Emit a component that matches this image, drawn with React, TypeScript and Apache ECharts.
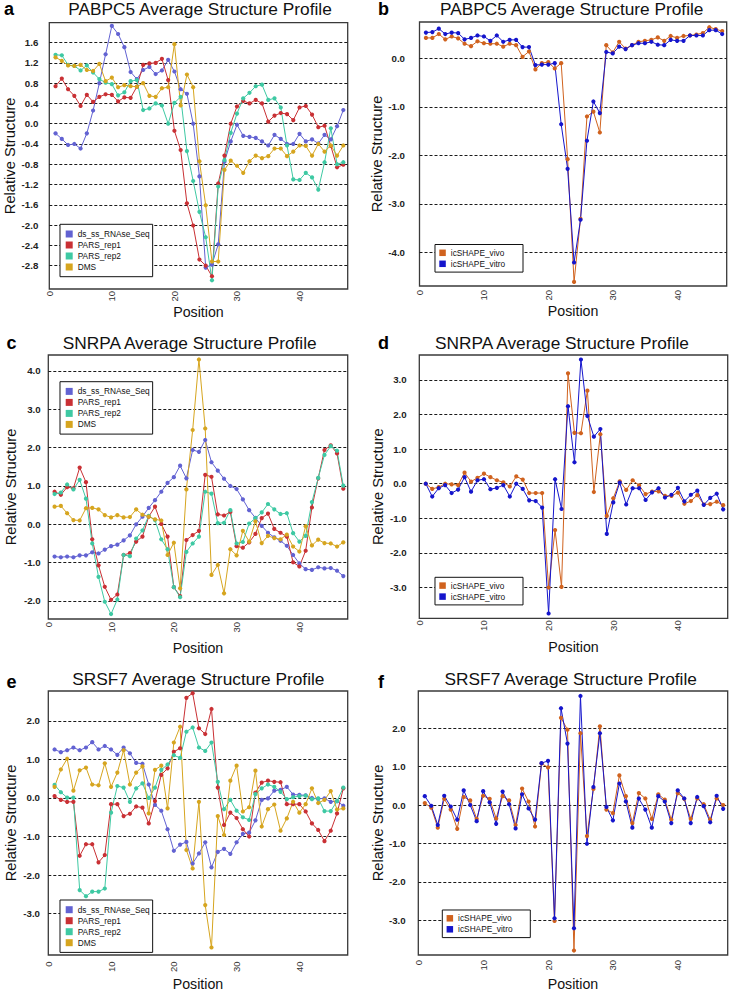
import React, { useEffect, useRef } from "react";
import * as echarts from "echarts";

// ---------- data ----------
const positions: number[] = Array.from({ length: 47 }, (_, i) => i + 1);
const xTicks = [0, 10, 20, 30, 40];

const leftNames = ["ds_ss_RNAse_Seq", "PARS_rep1", "PARS_rep2", "DMS"];
const rightNames = ["icSHAPE_vivo", "icSHAPE_vitro"];

// Panel a: PABPC5
const aDsSs = [-0.19,-0.3,-0.42,-0.4,-0.49,-0.19,0.26,0.8,1.37,1.93,1.77,1.51,1.02,0.88,1.06,1.12,0.98,1.05,1.26,1.03,0.68,0.59,0.0,-1.04,-2.84,-2.78,-2.38,-0.75,-0.35,-0.02,-0.24,-0.26,-0.28,-0.35,-0.43,-0.22,-0.3,-0.4,-0.4,-0.2,-0.35,-0.31,-0.39,-0.22,-0.31,-0.05,0.27];
const aPars1 = [0.74,0.89,0.68,0.55,0.35,0.57,0.43,0.53,0.58,0.57,0.44,0.52,0.51,0.73,1.16,1.19,1.2,1.28,0.86,-0.14,-0.52,-1.57,-2.01,-2.68,-2.8,-3.01,-1.18,-0.63,0.0,0.34,0.45,0.4,0.47,0.4,0.04,0.16,0.21,0.19,0.07,0.32,0.35,0.18,-0.07,-0.04,-0.44,-0.86,-0.81];
const aPars2 = [1.36,1.35,1.16,1.14,1.05,1.15,1.01,0.88,0.81,0.78,0.56,0.62,0.84,0.86,0.27,0.3,0.4,0.36,0.0,0.41,0.53,-0.54,-1.13,-1.74,-2.24,-3.09,-1.24,-0.72,-0.18,0.2,0.5,0.61,0.74,0.77,0.47,0.5,0.32,-0.43,-1.1,-1.11,-0.97,-1.06,-1.3,-0.76,-0.09,-0.8,-0.76];
const aDms = [1.31,1.24,1.15,1.14,1.16,1.06,1.04,1.18,0.84,0.91,0.72,0.76,0.74,0.73,0.8,0.55,0.53,0.7,0.72,1.57,0.36,0.97,0.72,-0.74,-1.61,-2.72,-2.72,-0.91,-0.73,-0.83,-0.97,-0.74,-0.63,-0.68,-0.64,-0.49,-0.49,-0.64,-0.55,-0.43,-0.44,-0.63,-0.4,-0.55,-0.43,-0.63,-0.43];
const aYTicks = [-2.8,-2.4,-2.0,-1.6,-1.2,-0.8,-0.4,0,0.4,0.8,1.2,1.6];

// Panel b: PABPC5 icSHAPE
const bVivo = [0.42,0.42,0.5,0.39,0.45,0.41,0.3,0.25,0.35,0.31,0.3,0.3,0.24,0.3,0.27,0.03,0.14,-0.23,-0.1,-0.08,-0.21,-0.1,-2.08,-4.61,-3.31,-1.2,-1.1,-1.53,0.27,0.12,0.34,0.2,0.27,0.34,0.36,0.38,0.43,0.36,0.46,0.42,0.46,0.47,0.49,0.52,0.64,0.6,0.56];
const bVitro = [0.53,0.54,0.61,0.5,0.53,0.52,0.39,0.42,0.47,0.45,0.36,0.47,0.34,0.38,0.38,0.23,0.23,-0.14,-0.13,-0.13,-0.1,-1.36,-2.28,-4.21,-3.33,-1.7,-0.89,-1.13,0.13,0.1,0.24,0.19,0.27,0.31,0.31,0.34,0.28,0.27,0.38,0.36,0.36,0.47,0.47,0.47,0.58,0.58,0.5];
const bYTicks = [-4,-3,-2,-1,0];

// Panel c: SNRPA
const cDsSs = [-0.84,-0.86,-0.84,-0.86,-0.81,-0.81,-0.73,-0.76,-0.66,-0.57,-0.53,-0.42,-0.29,0.0,0.2,0.43,0.63,0.85,1.08,1.23,1.53,1.2,1.94,1.89,2.2,1.62,1.4,1.19,1.0,0.92,0.65,0.37,0.17,-0.04,-0.22,-0.34,-0.43,-0.56,-0.8,-1.02,-1.17,-1.19,-1.12,-1.15,-1.14,-1.21,-1.35];
const cPars1 = [0.85,0.77,0.97,0.94,1.48,1.1,-0.39,-1.07,-1.63,-1.97,-1.83,-0.8,-0.75,-0.45,-0.32,0.2,0.46,0.01,-0.32,-1.64,-1.87,-0.41,-0.28,-0.17,1.29,1.24,0.26,0.23,0.32,-0.57,-0.61,-0.47,-0.25,0.16,0.28,-0.12,-0.22,-0.32,-0.99,-1.1,-0.69,0.44,1.2,1.94,2.06,1.85,0.93];
const cPars2 = [0.79,0.83,1.04,0.91,1.16,0.67,-0.5,-1.37,-2.02,-2.34,-1.96,-0.8,-0.83,-0.37,-0.16,0.22,0.11,-0.39,-0.65,-1.64,-1.9,-0.72,-0.5,-0.32,0.85,0.8,0.03,0.04,0.37,-0.5,-0.46,0.02,0.16,0.31,0.53,0.39,0.27,0.29,-0.23,-0.45,-0.3,0.58,1.21,1.81,2.04,1.92,1.01];
const cDms = [0.46,0.48,0.29,0.11,0.1,0.42,0.43,0.39,0.24,0.18,0.24,0.18,0.19,0.39,0.25,0.2,0.13,0.1,-0.8,-0.48,-1.67,0.91,2.46,4.3,2.5,-1.32,-1.06,-1.8,-0.65,-0.81,-0.17,-0.45,0.08,-0.49,-0.3,-0.36,-0.39,-0.27,-0.58,-0.71,-0.05,-0.55,-0.4,-0.49,-0.5,-0.58,-0.47];
const cYTicks = [-2,-1,0,1,2,3,4];

// Panel d: SNRPA icSHAPE
const dVivo = [0.0,-0.15,-0.1,0.0,-0.02,-0.04,0.32,0.06,0.17,0.29,0.19,0.1,0.04,-0.08,0.21,0.12,-0.27,-0.27,-0.27,-3.0,-1.34,-2.98,3.19,1.47,1.46,2.69,-0.24,1.43,-0.93,-0.42,0.07,-0.18,0.1,-0.05,-0.3,-0.23,-0.22,-0.35,-0.35,-0.26,-0.58,-0.5,-0.33,-0.6,-0.59,-0.52,-0.62];
const dVitro = [0.0,-0.37,-0.13,-0.04,-0.27,-0.17,0.19,-0.23,0.1,0.13,-0.16,-0.12,-0.04,-0.37,0.0,-0.15,-0.48,-0.5,-0.69,-3.75,0.13,-0.73,2.24,0.62,3.59,1.96,1.36,1.58,-1.45,-0.54,0.03,-0.6,-0.13,-0.13,-0.47,-0.25,-0.13,-0.4,-0.32,-0.12,-0.51,-0.32,-0.2,-0.61,-0.41,-0.29,-0.74];
const dYTicks = [-3,-2,-1,0,1,2,3];

// Panel e: SRSF7
const eDsSs = [1.26,1.19,1.24,1.31,1.24,1.31,1.45,1.26,1.35,1.26,1.12,1.31,1.16,0.91,0.89,0.35,-0.18,-0.33,-0.81,-1.37,-1.21,-1.14,-1.7,-1.44,-1.15,-1.8,-1.4,-1.32,-1.45,-1.15,-0.93,-0.9,-0.58,-0.05,-0.01,0.19,0.21,0.29,0.09,0.08,0.07,0.0,-0.02,-0.01,-0.1,-0.08,-0.2];
const ePars1 = [0.05,-0.05,-0.1,-0.1,-1.5,-1.2,-1.2,-1.67,-1.48,-0.16,-0.16,-0.47,-0.41,-0.22,-0.25,-0.66,-0.08,0.6,0.77,1.2,1.29,2.6,2.72,1.81,1.66,2.31,0.27,-0.7,-0.38,-0.52,-0.81,-1.0,0.14,0.4,0.45,0.42,0.41,-0.16,-0.16,-0.16,-0.35,-0.66,-0.83,-1.12,-0.85,-0.4,0.25];
const ePars2 = [0.34,0.15,0.01,0.01,-2.39,-2.55,-2.43,-2.43,-2.35,-0.38,0.31,0.27,-0.1,0.25,0.38,0.0,0.27,0.73,0.87,1.11,1.04,1.72,1.83,1.31,1.22,1.44,0.42,-0.29,-0.05,-0.33,-0.5,-0.57,0.1,0.25,0.35,0.29,0.16,-0.03,0.02,0.05,0.06,-0.03,-0.01,-0.34,-0.34,-0.08,0.27];
const eDms = [0.29,0.74,1.02,0.19,0.72,0.79,0.35,0.33,0.9,0.29,0.66,1.24,0.35,0.66,0.82,-0.4,0.73,0.84,-0.27,1.44,1.85,-1.35,-1.83,-0.1,-2.78,-3.88,-0.47,-0.96,0.45,0.84,-0.35,-0.24,0.71,-0.74,-0.29,-0.17,-0.85,-0.53,-0.1,-0.38,-0.16,0.25,-0.13,-0.05,0.18,-0.3,-0.27];
const eYTicks = [-3,-2,-1,0,1,2];

// Panel f: SRSF7 icSHAPE
const fVivo = [0.05,-0.07,-0.59,0.16,-0.12,-0.62,0.21,0.12,-0.36,0.24,0.16,-0.35,0.23,0.12,-0.52,0.43,0.09,-0.56,1.08,0.98,-3.02,2.27,1.96,-3.79,1.87,-0.81,0.42,2.05,-0.12,-0.21,0.77,0.23,-0.47,0.31,0.17,-0.36,0.28,0.14,-0.38,0.31,0.16,-0.36,0.17,0.02,-0.38,0.17,0.0];
const fVitro = [0.23,-0.02,-0.52,0.24,-0.04,-0.38,0.38,0.0,-0.42,0.36,0.07,-0.49,0.35,0.02,-0.61,0.28,-0.09,-0.38,1.09,1.15,-2.95,2.52,1.6,-3.21,2.84,-1.01,0.47,1.87,-0.05,-0.4,0.56,0.09,-0.59,0.17,-0.12,-0.59,0.23,0.09,-0.47,0.38,0.17,-0.47,0.21,-0.03,-0.45,0.24,-0.1];
const fYTicks = [-3,-2,-1,0,1,2];

// ---------- styling / layout ----------
const FONT = "'Liberation Sans', Arial, Helvetica, sans-serif";
const NARROW = "'Liberation Sans Narrow', 'Liberation Sans', Arial, sans-serif";
const leftColors = ["#6262d2", "#c93034", "#3ec9a3", "#d6a51f"];
const rightColors = ["#d0621e", "#1515cc"];

type Panel = {
  letter: string;
  title: string;
  titleX: number;
  titleY: number;
  letterX: number;
  letterY: number;
  grid: { left: number; top: number; width: number; height: number };
  yMin: number;
  yMax: number;
  yTicks: number[];
  yLabelMargin: number;
  yNameGap: number;
  xLabelMargin: number;
  xNameGap: number;
  names: string[];
  colors: string[];
  values: number[][];
  legend: { left: number; top: number; padding: number[]; icon: number };
};

const panels: Panel[] = [
  {
    letter: "a", title: "PABPC5 Average Structure Profile", titleX: 200, titleY: 9, letterX: 4, letterY: 8.7,
    grid: { left: 49.3, top: 22.7, width: 298.4, height: 266.3 },
    yMin: -3.262, yMax: 1.993, yTicks: aYTicks, yLabelMargin: 11, yNameGap: 30,
    xLabelMargin: 2, xNameGap: 14,
    names: leftNames, colors: leftColors, values: [aDsSs, aPars1, aPars2, aDms],
    legend: { left: 60, top: 224.3, padding: [4.2, 3, 4.2, 5.7], icon: 7 },
  },
  {
    letter: "b", title: "PABPC5 Average Structure Profile", titleX: 571.7, titleY: 9, letterX: 378, letterY: 8.7,
    grid: { left: 419.5, top: 22, width: 307.2, height: 264 },
    yMin: -4.695, yMax: 0.748, yTicks: bYTicks, yLabelMargin: 14.5, yNameGap: 34,
    xLabelMargin: 4, xNameGap: 17,
    names: rightNames, colors: rightColors, values: [bVivo, bVitro],
    legend: { left: 435, top: 244.5, padding: [2.8, 17.8, 2.8, 4.3], icon: 6.5 },
  },
  {
    letter: "c", title: "SNRPA Average Structure Profile", titleX: 189.7, titleY: 343.2, letterX: 6.5, letterY: 343,
    grid: { left: 48.3, top: 355, width: 299.4, height: 264 },
    yMin: -2.47, yMax: 4.417, yTicks: cYTicks, yLabelMargin: 7.6, yNameGap: 30,
    xLabelMargin: 3, xNameGap: 22,
    names: leftNames, colors: leftColors, values: [cDsSs, cPars1, cPars2, cDms],
    legend: { left: 60, top: 381.7, padding: [4.2, 3, 4.2, 5.7], icon: 7 },
  },
  {
    letter: "d", title: "SNRPA Average Structure Profile", titleX: 562, titleY: 343.2, letterX: 378, letterY: 343,
    grid: { left: 419.3, top: 355, width: 308.4, height: 263.3 },
    yMin: -3.89, yMax: 3.72, yTicks: dYTicks, yLabelMargin: 12.6, yNameGap: 33.5,
    xLabelMargin: 2, xNameGap: 22,
    names: rightNames, colors: rightColors, values: [dVivo, dVitro],
    legend: { left: 435, top: 577.3, padding: [2.8, 17.8, 2.8, 4.3], icon: 6.5 },
  },
  {
    letter: "e", title: "SRSF7 Average Structure Profile", titleX: 198.3, titleY: 679, letterX: 6.5, letterY: 682,
    grid: { left: 48.3, top: 691, width: 299.4, height: 264 },
    yMin: -4.075, yMax: 2.777, yTicks: eYTicks, yLabelMargin: 8.3, yNameGap: 30,
    xLabelMargin: 6.5, xNameGap: 22,
    names: leftNames, colors: leftColors, values: [eDsSs, ePars1, ePars2, eDms],
    legend: { left: 60, top: 900, padding: [4.2, 3, 4.2, 5.7], icon: 7 },
  },
  {
    letter: "f", title: "SRSF7 Average Structure Profile", titleX: 570.7, titleY: 679, letterX: 378, letterY: 682,
    grid: { left: 418.3, top: 691, width: 309.4, height: 264 },
    yMin: -3.906, yMax: 2.969, yTicks: fYTicks, yLabelMargin: 12.6, yNameGap: 32.5,
    xLabelMargin: 5, xNameGap: 22,
    names: rightNames, colors: rightColors, values: [fVivo, fVitro],
    legend: { left: 442.3, top: 910, padding: [2.8, 17.8, 2.8, 4.3], icon: 6.5 },
  },
];

function buildOption() {
  const grid = panels.map((p) => ({
    ...p.grid,
    show: true,
    borderColor: "#3a3a3a",
    borderWidth: 1.3,
    backgroundColor: "transparent",
    containLabel: false,
  }));

  const xAxis = panels.map((p, k) => ({
    type: "value",
    gridIndex: k,
    min: 0,
    max: 47.7,
    name: "Position",
    nameLocation: "middle",
    nameGap: p.xNameGap,
    nameTextStyle: { fontSize: 14.2, color: "#111", fontFamily: FONT },
    axisLine: { show: false },
    axisTick: { show: false, customValues: xTicks },
    splitLine: { show: false },
    axisLabel: {
      customValues: xTicks,
      rotate: 90,
      fontSize: 9.5,
      color: "#333",
      margin: p.xLabelMargin,
      fontFamily: FONT,
    },
  }));

  const yAxis = panels.map((p, k) => ({
    type: "value",
    gridIndex: k,
    min: p.yMin,
    max: p.yMax,
    name: "Relative Structure",
    nameLocation: "middle",
    nameRotate: 90,
    nameGap: p.yNameGap,
    nameTextStyle: { fontSize: 14.7, color: "#111", fontFamily: FONT },
    axisLine: { show: false },
    axisTick: { show: false, customValues: p.yTicks },
    axisLabel: {
      customValues: p.yTicks,
      fontSize: 9.7,
      fontWeight: "bold",
      color: "#222",
      margin: p.yLabelMargin,
      fontFamily: FONT,
      formatter: (v: number) => v.toFixed(1),
    },
    splitLine: { show: true, lineStyle: { color: "#1a1a1a", width: 1, type: [3, 2] } },
  }));

  const series: any[] = [];
  panels.forEach((p, k) => {
    p.names.forEach((name, j) => {
      series.push({
        type: "line",
        name,
        xAxisIndex: k,
        yAxisIndex: k,
        data: positions.map((x, i) => [x, p.values[j][i]]),
        symbol: "circle",
        symbolSize: 4.2,
        showSymbol: true,
        lineStyle: { width: 1, color: p.colors[j] },
        itemStyle: { color: p.colors[j] },
        emphasis: { disabled: true },
      });
    });
  });

  const legend = panels.map((p) => ({
    orient: "vertical",
    left: p.legend.left,
    top: p.legend.top,
    padding: p.legend.padding,
    itemGap: 0,
    itemWidth: p.legend.icon,
    itemHeight: p.legend.icon,
    icon: "rect",
    selectedMode: false,
    backgroundColor: "#fff",
    borderColor: "#111",
    borderWidth: 1,
    borderRadius: 0,
    data: p.names,
    textStyle: { fontSize: 8.3, lineHeight: 11, color: "#111", fontFamily: NARROW },
  }));

  const graphic: any[] = [];
  panels.forEach((p) => {
    graphic.push({
      type: "text",
      x: p.titleX,
      y: p.titleY,
      silent: true,
      style: {
        text: p.title,
        fill: "#111",
        font: `17.3px ${FONT}`,
        textAlign: "center",
        textVerticalAlign: "middle",
        align: "center",
        verticalAlign: "middle",
      },
    });
    graphic.push({
      type: "text",
      x: p.letterX,
      y: p.letterY,
      silent: true,
      style: {
        text: p.letter,
        fill: "#000",
        font: `bold 18px ${FONT}`,
        textAlign: "left",
        textVerticalAlign: "middle",
        align: "left",
        verticalAlign: "middle",
      },
    });
  });

  return {
    animation: false,
    backgroundColor: "#ffffff",
    textStyle: { fontFamily: FONT },
    grid,
    xAxis,
    yAxis,
    legend,
    series,
    graphic,
  };
}

export default function App() {
  const ref = useRef<HTMLDivElement>(null);
  useEffect(() => {
    if (!ref.current) return;
    const chart = echarts.init(ref.current, undefined, { renderer: "svg" });
    chart.setOption(buildOption() as any);
    return () => chart.dispose();
  }, []);
  return (
    <div
      ref={ref}
      style={{ position: "absolute", left: 0, top: 0, width: 729, height: 992, background: "#fff" }}
    />
  );
}
